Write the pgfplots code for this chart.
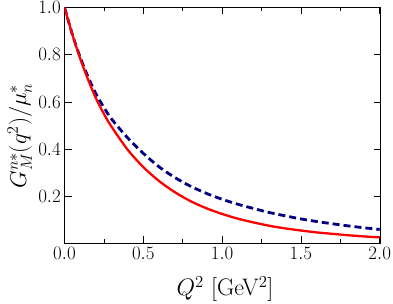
\RequirePackage{fix-cm}
\documentclass[border=0pt]{standalone}
\usepackage{pgfplots}
\pgfplotsset{compat=1.18}
\definecolor{navyb}{RGB}{0,0,128}
\begin{document}
\begin{tikzpicture}
\path[use as bounding box] (-64.5bp,-60.7bp) rectangle (328.5bp,243.3bp);
\begin{axis}[
 scale only axis, width=316bp, height=236bp,
 at={(0,0)}, anchor=south west,
 xmin=0, xmax=2.005, ymin=0.003, ymax=1.0,
 xtick={0,0.5,1.0,1.5,2.0}, minor x tick num=1,
 ytick={0.2,0.4,0.6,0.8,1.0},
 tick align=inside,
 major tick length=7bp, minor tick length=4bp,
 every tick/.style={black, line width=0.8bp},
 axis line style={line width=1.2bp},
 /pgf/number format/fixed, /pgf/number format/fixed zerofill, /pgf/number format/precision=1,
 tick label style={inner sep=3.5bp},
 xticklabel={\fontsize{19}{21}\selectfont$\pgfmathprintnumber{\tick}$},
 yticklabel={\fontsize{19}{21}\selectfont$\pgfmathprintnumber{\tick}$},
 xlabel={\fontsize{24}{26}\selectfont$Q^2$ [GeV$^2$]},
 ylabel={\fontsize{23}{25}\selectfont$G_M^{n*}(q^2)/\mu_n^*$},
 xlabel style={at={(rel axis cs:0.508,-0.194)}, anchor=center},
 ylabel style={at={(rel axis cs:-0.142,0.455)}, anchor=center},
]
\addplot[navyb, line width=2.8bp, dash pattern=on 7bp off 4bp, smooth] coordinates {
(0,1.0) (0.05,0.885) (0.1,0.788) (0.15,0.705) (0.2,0.634) (0.25,0.577) (0.3,0.527)
(0.4,0.449) (0.5,0.383) (0.6,0.326) (0.7,0.281) (0.8,0.244) (0.9,0.214) (1.0,0.189)
(1.1,0.168) (1.2,0.150) (1.3,0.133) (1.4,0.119) (1.5,0.106) (1.6,0.095) (1.7,0.0855)
(1.8,0.0765) (1.9,0.0686) (2.0,0.0614)};
\addplot[red, line width=2.3bp, smooth] coordinates {
(0,1.0) (0.05,0.885) (0.1,0.783) (0.15,0.694) (0.2,0.615) (0.25,0.550) (0.3,0.494)
(0.4,0.399) (0.5,0.325) (0.6,0.266) (0.7,0.219) (0.8,0.181) (0.9,0.151) (1.0,0.127)
(1.1,0.107) (1.2,0.091) (1.3,0.077) (1.4,0.066) (1.5,0.057) (1.6,0.049) (1.7,0.043)
(1.8,0.037) (1.9,0.032) (2.0,0.028)};
\end{axis}
\end{tikzpicture}
\end{document}
